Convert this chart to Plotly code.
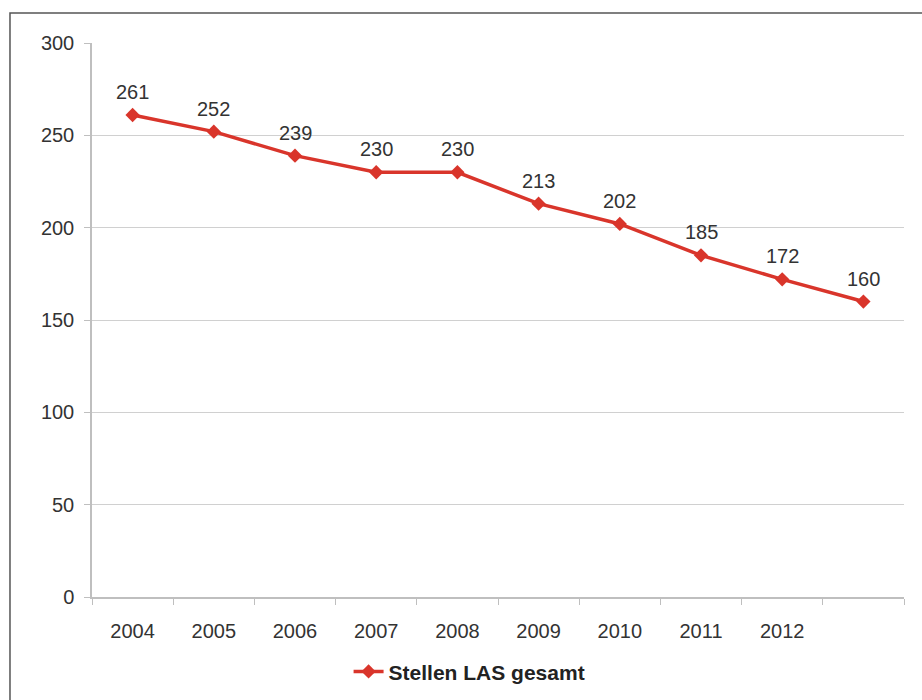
import plotly.graph_objects as go

# Staff positions per year
years = ["2004", "2005", "2006", "2007", "2008", "2009", "2010", "2011", "2012", "2013"]
tick_labels = ["2004", "2005", "2006", "2007", "2008", "2009", "2010", "2011", "2012", ""]
stellen = [261, 252, 239, 230, 230, 213, 202, 185, 172, 160]
series_name = "Stellen LAS gesamt"

RED = "#D9352B"
FONT = "Liberation Sans, Arial, sans-serif"
TXT = "#333333"

fig = go.Figure()
fig.add_trace(go.Scatter(
    x=years, y=stellen, name=series_name,
    mode="lines+markers",
    line=dict(color=RED, width=3.5),
    marker=dict(symbol="diamond", size=11, color=RED),
))

# value labels above each point (category index positions)
for i, v in enumerate(stellen):
    fig.add_annotation(x=i, y=v, text=str(v), showarrow=False, yshift=23,
                       font=dict(family=FONT, size=20, color=TXT))

# outer chart frame
fig.add_shape(type="rect", xref="paper", yref="paper",
              x0=-0.101, x1=1.2, y0=-0.4, y1=1.054,
              line=dict(color="#555555", width=1.5), layer="below")

fig.update_layout(
    width=922, height=700,
    margin=dict(l=92, r=18, t=43, b=103, autoexpand=False),
    paper_bgcolor="white", plot_bgcolor="white",
    font=dict(family=FONT, size=20, color=TXT),
    showlegend=True,
    legend=dict(orientation="h", x=0.465, xanchor="center", y=-0.135, yanchor="middle",
                font=dict(family=FONT, size=21, color="#222222", weight="bold"),
                itemwidth=30, bgcolor="rgba(0,0,0,0)"),
    xaxis=dict(type="category", tickvals=years, ticktext=tick_labels,
               tickson="boundaries", ticks="outside", ticklen=6, tickcolor="#BFBFBF",
               showline=True, linecolor="#BFBFBF", linewidth=1.5,
               showgrid=False, tickfont=dict(size=20, color=TXT), automargin=False,
               ticklabelstandoff=15, range=[-0.5, 9.5]),
    yaxis=dict(range=[0, 300], dtick=50, ticks="outside", ticklen=6, tickcolor="#BFBFBF",
               showline=True, linecolor="#BFBFBF", linewidth=1.5,
               showgrid=True, gridcolor="#D0D0D0", gridwidth=1.2, automargin=False,
               zeroline=False, tickfont=dict(size=20, color=TXT),
               ticklabelstandoff=6),
)

fig.write_html("out.html")
